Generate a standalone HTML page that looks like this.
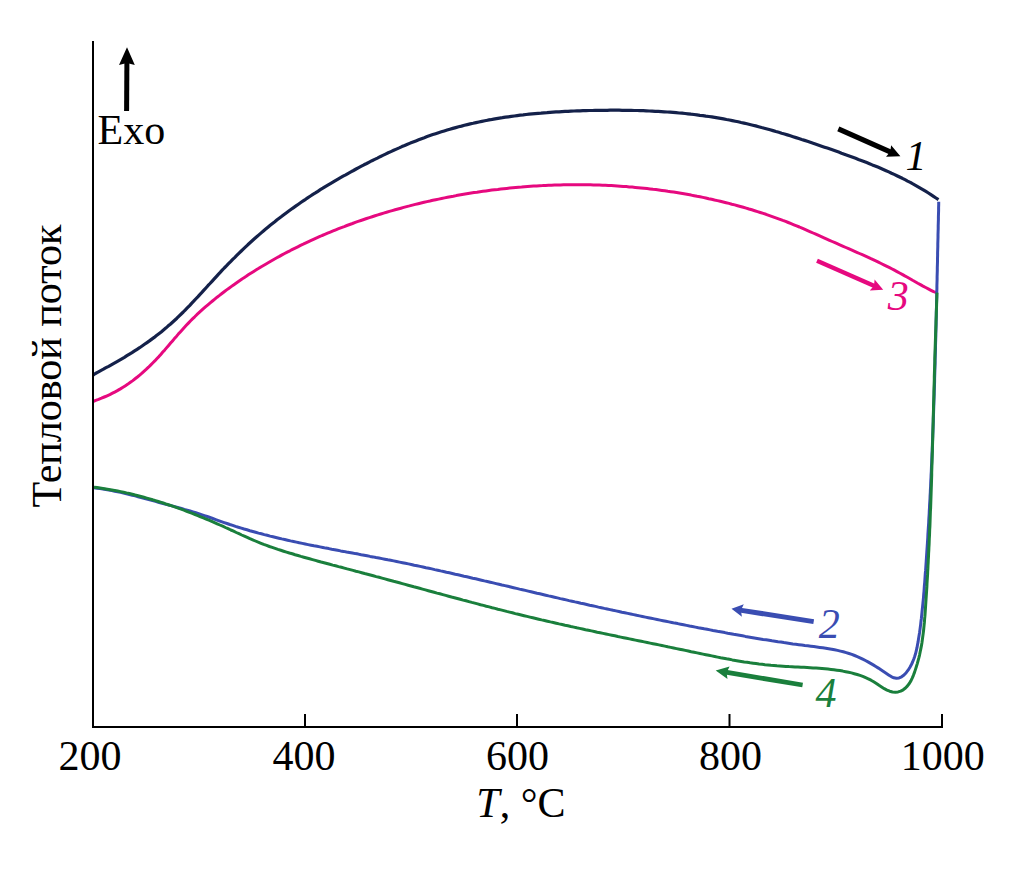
<!DOCTYPE html>
<html><head><meta charset="utf-8"><style>
html,body{margin:0;padding:0;background:#fff;width:1010px;height:871px;overflow:hidden}
svg{display:block}
text{font-family:"Liberation Serif",serif;font-size:42px}
</style></head><body>
<svg width="1010" height="871" viewBox="0 0 1010 871">
<path d="M93.0,375.2 L95.4,373.5 L98.0,372.1 L100.7,370.6 L103.4,369.2 L106.0,367.7 L108.7,366.3 L111.3,364.8 L113.9,363.3 L116.6,361.8 L119.2,360.3 L121.8,358.8 L124.4,357.3 L126.9,355.7 L129.5,354.1 L132.0,352.6 L134.6,350.9 L137.1,349.3 L139.6,347.7 L142.1,346.0 L144.5,344.3 L147.0,342.6 L149.4,340.9 L151.8,339.1 L154.2,337.4 L156.5,335.5 L158.9,333.7 L161.2,331.9 L163.5,330.0 L165.8,328.1 L168.0,326.1 L170.3,324.2 L172.5,322.2 L174.7,320.2 L176.9,318.2 L179.0,316.1 L181.2,314.0 L183.3,312.0 L185.4,309.8 L187.5,307.7 L189.6,305.6 L191.6,303.4 L193.7,301.2 L195.7,299.0 L197.8,296.8 L199.8,294.6 L201.9,292.4 L203.9,290.2 L205.9,288.0 L207.9,285.7 L210.0,283.5 L212.0,281.3 L214.0,279.1 L216.1,276.8 L218.1,274.6 L220.2,272.4 L222.2,270.2 L224.3,268.0 L226.4,265.9 L228.5,263.7 L230.6,261.6 L232.7,259.4 L234.9,257.3 L237.0,255.2 L239.1,253.1 L241.3,251.0 L243.5,248.9 L245.6,246.9 L247.8,244.8 L250.0,242.8 L252.2,240.8 L254.4,238.8 L256.7,236.8 L258.9,234.9 L261.2,232.9 L263.4,231.0 L265.7,229.1 L267.9,227.2 L270.2,225.3 L272.5,223.5 L274.8,221.7 L277.1,219.8 L279.5,218.0 L281.8,216.3 L284.1,214.5 L286.5,212.7 L288.8,211.0 L291.2,209.3 L293.6,207.6 L296.0,205.9 L298.4,204.2 L300.8,202.5 L303.2,200.9 L305.6,199.3 L308.0,197.6 L310.5,196.0 L312.9,194.4 L315.4,192.9 L317.9,191.3 L320.3,189.7 L322.8,188.2 L325.3,186.6 L327.8,185.1 L330.4,183.6 L332.9,182.1 L335.4,180.6 L338.0,179.1 L340.5,177.7 L343.1,176.2 L345.7,174.8 L348.3,173.3 L350.9,171.9 L353.5,170.5 L356.1,169.0 L358.7,167.6 L361.4,166.2 L364.0,164.8 L366.7,163.5 L369.3,162.1 L372.0,160.7 L374.7,159.4 L377.4,158.1 L380.1,156.7 L382.8,155.4 L385.5,154.1 L388.2,152.8 L390.9,151.6 L393.7,150.3 L396.4,149.1 L399.2,147.9 L401.9,146.6 L404.7,145.5 L407.5,144.3 L410.3,143.1 L413.1,142.0 L415.9,140.9 L418.7,139.8 L421.5,138.7 L424.3,137.7 L427.1,136.6 L430.0,135.6 L432.8,134.6 L435.6,133.7 L438.5,132.7 L441.4,131.8 L444.2,130.9 L447.1,130.0 L449.9,129.2 L452.8,128.4 L455.7,127.6 L458.6,126.8 L461.5,126.1 L464.4,125.3 L467.3,124.6 L470.2,123.9 L473.1,123.3 L476.0,122.6 L478.9,122.0 L481.9,121.4 L484.8,120.8 L487.7,120.2 L490.6,119.7 L493.6,119.1 L496.5,118.6 L499.5,118.1 L502.4,117.7 L505.4,117.2 L508.3,116.8 L511.3,116.4 L514.3,116.0 L517.2,115.6 L520.2,115.2 L523.2,114.9 L526.1,114.5 L529.1,114.2 L532.1,113.9 L535.1,113.6 L538.1,113.3 L541.0,113.1 L544.0,112.8 L547.0,112.6 L550.0,112.3 L553.0,112.1 L556.0,111.9 L559.0,111.8 L562.0,111.6 L565.0,111.4 L568.0,111.3 L571.0,111.1 L574.0,111.0 L577.0,110.9 L580.0,110.8 L583.0,110.7 L586.0,110.6 L589.1,110.5 L592.1,110.5 L595.1,110.4 L598.1,110.4 L601.1,110.3 L604.1,110.3 L607.1,110.3 L610.1,110.2 L613.1,110.2 L616.1,110.2 L619.1,110.2 L622.1,110.3 L625.2,110.3 L628.2,110.3 L631.2,110.4 L634.2,110.5 L637.2,110.5 L640.2,110.6 L643.2,110.7 L646.2,110.8 L649.2,111.0 L652.2,111.1 L655.2,111.3 L658.2,111.4 L661.2,111.6 L664.2,111.8 L667.2,112.0 L670.1,112.2 L673.1,112.4 L676.1,112.7 L679.1,113.0 L682.1,113.2 L685.1,113.5 L688.0,113.8 L691.0,114.2 L694.0,114.5 L696.9,114.9 L699.9,115.3 L702.9,115.6 L705.8,116.1 L708.8,116.5 L711.8,116.9 L714.7,117.4 L717.6,117.9 L720.6,118.4 L723.5,118.9 L726.5,119.5 L729.4,120.0 L732.3,120.6 L735.3,121.2 L738.2,121.8 L741.1,122.5 L744.0,123.1 L746.9,123.8 L749.8,124.5 L752.8,125.2 L755.7,125.9 L758.6,126.7 L761.5,127.5 L764.3,128.2 L767.2,129.0 L770.1,129.8 L773.0,130.6 L775.9,131.5 L778.8,132.3 L781.6,133.2 L784.5,134.0 L787.4,134.9 L790.3,135.8 L793.1,136.7 L796.0,137.6 L798.8,138.5 L801.7,139.5 L804.6,140.4 L807.4,141.3 L810.3,142.3 L813.1,143.2 L816.0,144.2 L818.8,145.2 L821.6,146.2 L824.5,147.2 L827.3,148.1 L830.2,149.1 L833.0,150.1 L835.8,151.1 L838.7,152.1 L841.5,153.2 L844.3,154.2 L847.1,155.2 L849.9,156.2 L852.8,157.3 L855.6,158.3 L858.4,159.4 L861.2,160.4 L864.0,161.5 L866.7,162.6 L869.5,163.7 L872.3,164.9 L875.1,166.0 L877.8,167.1 L880.6,168.3 L883.3,169.5 L886.1,170.7 L888.8,171.9 L891.5,173.2 L894.2,174.4 L896.9,175.7 L899.6,177.0 L902.3,178.3 L905.0,179.7 L907.6,181.1 L910.3,182.4 L912.9,183.9 L915.5,185.3 L918.1,186.8 L920.7,188.3 L923.3,189.8 L925.9,191.4 L928.4,193.0 L930.9,194.6 L933.5,196.3 L936.0,198.0 L938.5,199.6" fill="none" stroke="#14214a" stroke-width="3.2" stroke-linejoin="round"/>
<path d="M93.0,401.6 L95.7,400.3 L98.6,399.3 L101.5,398.2 L104.3,397.0 L107.1,395.8 L109.8,394.6 L112.5,393.2 L115.2,391.8 L117.8,390.4 L120.4,388.9 L123.0,387.3 L125.5,385.7 L127.9,384.1 L130.4,382.3 L132.8,380.6 L135.1,378.8 L137.4,377.0 L139.7,375.1 L142.0,373.2 L144.2,371.2 L146.4,369.2 L148.5,367.2 L150.6,365.1 L152.7,363.0 L154.8,360.9 L156.8,358.7 L158.9,356.6 L160.8,354.4 L162.8,352.1 L164.8,349.9 L166.7,347.6 L168.6,345.4 L170.6,343.1 L172.5,340.9 L174.4,338.6 L176.4,336.4 L178.3,334.1 L180.3,331.9 L182.3,329.7 L184.3,327.5 L186.3,325.3 L188.4,323.1 L190.4,321.0 L192.5,318.9 L194.7,316.8 L196.8,314.7 L199.0,312.7 L201.2,310.7 L203.4,308.7 L205.7,306.7 L207.9,304.8 L210.2,302.9 L212.5,301.0 L214.8,299.1 L217.1,297.2 L219.5,295.4 L221.9,293.5 L224.2,291.7 L226.6,289.9 L229.0,288.2 L231.5,286.4 L233.9,284.7 L236.3,283.0 L238.8,281.3 L241.3,279.6 L243.7,277.9 L246.2,276.3 L248.7,274.6 L251.2,273.0 L253.7,271.4 L256.3,269.8 L258.8,268.3 L261.3,266.7 L263.9,265.2 L266.5,263.7 L269.0,262.2 L271.6,260.7 L274.2,259.2 L276.8,257.8 L279.4,256.4 L282.0,254.9 L284.6,253.5 L287.2,252.1 L289.9,250.8 L292.5,249.4 L295.2,248.1 L297.8,246.8 L300.5,245.4 L303.2,244.2 L305.9,242.9 L308.6,241.6 L311.2,240.4 L314.0,239.1 L316.7,237.9 L319.4,236.7 L322.1,235.5 L324.8,234.4 L327.6,233.2 L330.3,232.1 L333.1,230.9 L335.8,229.8 L338.6,228.7 L341.4,227.6 L344.2,226.6 L346.9,225.5 L349.7,224.5 L352.5,223.5 L355.3,222.4 L358.1,221.4 L360.9,220.5 L363.8,219.5 L366.6,218.5 L369.4,217.6 L372.2,216.7 L375.1,215.8 L377.9,214.9 L380.8,214.0 L383.6,213.1 L386.5,212.3 L389.4,211.4 L392.2,210.6 L395.1,209.8 L398.0,209.0 L400.9,208.2 L403.7,207.4 L406.6,206.6 L409.5,205.9 L412.4,205.1 L415.3,204.4 L418.2,203.7 L421.1,203.0 L424.1,202.3 L427.0,201.6 L429.9,201.0 L432.8,200.3 L435.7,199.7 L438.7,199.1 L441.6,198.5 L444.5,197.9 L447.5,197.3 L450.4,196.7 L453.3,196.2 L456.3,195.6 L459.2,195.1 L462.2,194.6 L465.1,194.1 L468.1,193.6 L471.1,193.1 L474.0,192.6 L477.0,192.2 L479.9,191.7 L482.9,191.3 L485.9,190.9 L488.9,190.5 L491.8,190.1 L494.8,189.7 L497.8,189.4 L500.8,189.0 L503.7,188.7 L506.7,188.4 L509.7,188.1 L512.7,187.8 L515.7,187.5 L518.6,187.2 L521.6,187.0 L524.6,186.7 L527.6,186.5 L530.6,186.3 L533.6,186.1 L536.6,185.9 L539.6,185.7 L542.6,185.6 L545.6,185.4 L548.5,185.3 L551.5,185.2 L554.5,185.1 L557.5,185.0 L560.5,184.9 L563.5,184.8 L566.5,184.8 L569.5,184.7 L572.5,184.7 L575.5,184.7 L578.5,184.7 L581.5,184.7 L584.5,184.7 L587.5,184.8 L590.5,184.8 L593.4,184.9 L596.4,185.0 L599.4,185.1 L602.4,185.2 L605.4,185.3 L608.4,185.5 L611.4,185.6 L614.3,185.8 L617.3,186.0 L620.3,186.2 L623.3,186.4 L626.3,186.6 L629.2,186.9 L632.2,187.1 L635.2,187.4 L638.2,187.7 L641.1,188.0 L644.1,188.3 L647.1,188.6 L650.0,188.9 L653.0,189.3 L655.9,189.6 L658.9,190.0 L661.9,190.4 L664.8,190.8 L667.8,191.3 L670.7,191.7 L673.6,192.1 L676.6,192.6 L679.5,193.1 L682.5,193.6 L685.4,194.1 L688.3,194.6 L691.2,195.1 L694.2,195.7 L697.1,196.3 L700.0,196.8 L702.9,197.4 L705.8,198.0 L708.7,198.7 L711.6,199.3 L714.5,200.0 L717.4,200.6 L720.3,201.3 L723.2,202.0 L726.1,202.7 L729.0,203.4 L731.8,204.2 L734.7,204.9 L737.6,205.7 L740.4,206.5 L743.3,207.3 L746.2,208.1 L749.0,209.0 L751.8,209.8 L754.7,210.7 L757.5,211.6 L760.3,212.5 L763.2,213.4 L766.0,214.3 L768.8,215.3 L771.6,216.3 L774.4,217.3 L777.2,218.3 L780.0,219.3 L782.8,220.4 L785.6,221.4 L788.3,222.5 L791.1,223.6 L793.9,224.8 L796.6,225.9 L799.4,227.0 L802.1,228.2 L804.9,229.4 L807.6,230.6 L810.4,231.8 L813.1,233.0 L815.8,234.2 L818.6,235.4 L821.3,236.6 L824.0,237.8 L826.8,239.1 L829.5,240.3 L832.2,241.5 L835.0,242.7 L837.7,243.9 L840.4,245.1 L843.2,246.3 L845.9,247.5 L848.6,248.7 L851.4,249.9 L854.1,251.1 L856.8,252.3 L859.5,253.5 L862.3,254.7 L865.0,255.9 L867.7,257.1 L870.4,258.4 L873.1,259.6 L875.8,260.9 L878.4,262.2 L881.1,263.5 L883.8,264.8 L886.4,266.1 L889.1,267.4 L891.7,268.8 L894.4,270.2 L897.0,271.6 L899.6,273.0 L902.2,274.4 L904.8,275.9 L907.4,277.3 L910.0,278.8 L912.6,280.3 L915.2,281.7 L917.8,283.2 L920.4,284.6 L923.0,286.1 L925.7,287.5 L928.3,288.9 L931.0,290.3 L933.6,291.6 L936.5,292.6" fill="none" stroke="#e6097f" stroke-width="3" stroke-linejoin="round"/>
<path d="M94.0,487.8 L97.0,488.2 L100.0,488.6 L102.9,489.0 L105.9,489.5 L108.8,490.0 L111.8,490.6 L114.7,491.2 L117.7,491.8 L120.6,492.4 L123.5,493.1 L126.4,493.8 L129.4,494.5 L132.3,495.2 L135.2,495.9 L138.1,496.7 L141.0,497.5 L143.9,498.2 L146.8,499.0 L149.7,499.8 L152.6,500.6 L155.5,501.4 L158.4,502.2 L161.2,503.0 L164.1,503.8 L167.0,504.6 L169.9,505.4 L172.8,506.1 L175.7,506.9 L178.6,507.7 L181.5,508.5 L184.3,509.4 L187.2,510.2 L190.1,511.0 L192.9,511.9 L195.8,512.8 L198.7,513.7 L201.5,514.6 L204.4,515.6 L207.2,516.5 L210.0,517.5 L212.8,518.5 L215.7,519.6 L218.5,520.6 L221.3,521.6 L224.2,522.6 L227.0,523.5 L229.8,524.5 L232.7,525.4 L235.5,526.4 L238.4,527.3 L241.3,528.1 L244.1,529.0 L247.0,529.8 L249.9,530.7 L252.8,531.5 L255.6,532.3 L258.5,533.1 L261.4,533.8 L264.3,534.6 L267.2,535.3 L270.1,536.1 L273.0,536.8 L275.9,537.5 L278.9,538.2 L281.8,538.9 L284.7,539.5 L287.6,540.2 L290.5,540.9 L293.5,541.5 L296.4,542.1 L299.3,542.8 L302.3,543.4 L305.2,544.0 L308.1,544.6 L311.1,545.2 L314.0,545.8 L317.0,546.3 L319.9,546.9 L322.9,547.5 L325.8,548.1 L328.8,548.6 L331.7,549.2 L334.7,549.7 L337.6,550.3 L340.6,550.9 L343.5,551.4 L346.5,552.0 L349.4,552.5 L352.4,553.0 L355.3,553.6 L358.3,554.1 L361.2,554.7 L364.2,555.2 L367.1,555.8 L370.1,556.4 L373.0,556.9 L376.0,557.5 L378.9,558.0 L381.9,558.6 L384.8,559.2 L387.8,559.8 L390.7,560.3 L393.7,560.9 L396.6,561.5 L399.5,562.1 L402.5,562.7 L405.4,563.3 L408.4,563.9 L411.3,564.5 L414.2,565.2 L417.2,565.8 L420.1,566.4 L423.0,567.0 L426.0,567.7 L428.9,568.3 L431.8,568.9 L434.7,569.6 L437.7,570.2 L440.6,570.9 L443.5,571.5 L446.4,572.2 L449.4,572.8 L452.3,573.5 L455.2,574.2 L458.1,574.8 L461.1,575.5 L464.0,576.2 L466.9,576.8 L469.8,577.5 L472.7,578.2 L475.7,578.8 L478.6,579.5 L481.5,580.2 L484.4,580.9 L487.3,581.5 L490.3,582.2 L493.2,582.9 L496.1,583.6 L499.0,584.3 L501.9,585.0 L504.9,585.6 L507.8,586.3 L510.7,587.0 L513.6,587.7 L516.5,588.4 L519.5,589.1 L522.4,589.7 L525.3,590.4 L528.2,591.1 L531.1,591.8 L534.0,592.5 L537.0,593.2 L539.9,593.8 L542.8,594.5 L545.7,595.2 L548.6,595.9 L551.6,596.5 L554.5,597.2 L557.4,597.9 L560.3,598.6 L563.3,599.2 L566.2,599.9 L569.1,600.6 L572.0,601.2 L575.0,601.9 L577.9,602.5 L580.8,603.2 L583.8,603.8 L586.7,604.5 L589.6,605.2 L592.5,605.8 L595.5,606.4 L598.4,607.1 L601.3,607.7 L604.3,608.4 L607.2,609.0 L610.1,609.6 L613.1,610.3 L616.0,610.9 L618.9,611.5 L621.9,612.2 L624.8,612.8 L627.7,613.4 L630.7,614.0 L633.6,614.6 L636.6,615.3 L639.5,615.9 L642.4,616.5 L645.4,617.1 L648.3,617.7 L651.2,618.3 L654.2,618.9 L657.1,619.5 L660.1,620.1 L663.0,620.7 L665.9,621.3 L668.9,621.9 L671.8,622.5 L674.8,623.1 L677.7,623.6 L680.7,624.2 L683.6,624.8 L686.5,625.4 L689.5,626.0 L692.4,626.5 L695.4,627.1 L698.3,627.7 L701.3,628.2 L704.2,628.8 L707.1,629.3 L710.1,629.9 L713.0,630.5 L716.0,631.0 L718.9,631.6 L721.9,632.1 L724.8,632.6 L727.7,633.2 L730.7,633.7 L733.6,634.3 L736.6,634.8 L739.5,635.3 L742.5,635.8 L745.4,636.4 L748.4,636.9 L751.3,637.4 L754.3,637.9 L757.2,638.4 L760.2,638.9 L763.1,639.4 L766.1,639.8 L769.1,640.3 L772.0,640.8 L775.0,641.2 L778.0,641.7 L780.9,642.1 L783.9,642.6 L786.9,643.0 L789.9,643.4 L792.8,643.9 L795.8,644.3 L798.8,644.7 L801.8,645.1 L804.8,645.5 L807.8,645.8 L810.8,646.2 L813.8,646.6 L816.8,647.0 L819.8,647.4 L822.8,647.8 L825.8,648.2 L828.7,648.7 L831.7,649.2 L834.6,649.8 L837.5,650.4 L840.4,651.1 L843.3,651.8 L846.2,652.6 L849.0,653.5 L851.8,654.4 L854.6,655.5 L857.3,656.6 L860.0,657.8 L862.7,659.1 L865.4,660.5 L868.0,661.9 L870.6,663.4 L873.2,664.9 L875.8,666.5 L878.4,668.1 L880.9,669.8 L883.5,671.5 L886.1,673.2 L888.6,674.9 L891.2,676.6 L893.8,677.8 L896.4,678.3 L899.1,677.9 L901.6,676.8 L904.0,675.0 L906.2,672.7 L908.1,670.2 L909.8,667.5 L911.3,664.8 L912.6,662.0 L913.7,659.2 L914.7,656.4 L915.6,653.5 L916.3,650.7 L917.0,647.7 L917.5,644.8 L918.1,641.9 L918.5,638.9 L919.0,636.0 L919.5,633.0 L919.9,630.1 L920.3,627.1 L920.7,624.1 L921.0,621.2 L921.4,618.2 L921.7,615.2 L922.0,612.2 L922.3,609.2 L922.6,606.3 L922.9,603.3 L923.2,600.3 L923.5,597.3 L923.7,594.3 L924.0,591.3 L924.2,588.3 L924.4,585.3 L924.7,582.3 L924.9,579.3 L925.1,576.4 L925.3,573.4 L925.6,570.4 L925.8,567.4 L926.0,564.4 L926.2,561.4 L926.4,558.4 L926.6,555.4 L926.8,552.4 L927.0,549.4 L927.2,546.4 L927.4,543.4 L927.6,540.4 L927.8,537.4 L927.9,534.4 L928.1,531.4 L928.3,528.4 L928.5,525.4 L928.7,522.5 L928.8,519.5 L929.0,516.5 L929.2,513.5 L929.3,510.5 L929.5,507.5 L929.6,504.5 L929.8,501.5 L930.0,498.5 L930.1,495.5 L930.3,492.5 L930.4,489.5 L930.6,486.5 L930.7,483.5 L930.8,480.5 L931.0,477.5 L931.1,474.5 L931.3,471.5 L931.4,468.5 L931.5,465.5 L931.7,462.5 L931.8,459.5 L931.9,456.5 L932.0,453.5 L932.2,450.6 L932.3,447.6 L932.4,444.6 L932.5,441.6 L932.6,438.6 L932.7,435.6 L932.9,432.6 L933.0,429.6 L933.1,426.6 L933.2,423.6 L933.3,420.6 L933.4,417.6 L933.5,414.6 L933.6,411.6 L933.7,408.6 L933.8,405.6 L933.9,402.6 L934.0,399.6 L934.1,396.6 L934.2,393.6 L934.3,390.6 L934.4,387.6 L934.5,384.6 L934.6,381.6 L934.6,378.6 L934.7,375.6 L934.8,372.6 L934.9,369.6 L935.0,366.6 L935.1,363.6 L935.1,360.6 L935.2,357.6 L935.3,354.6 L935.4,351.6 L935.5,348.6 L935.5,345.6 L935.6,342.6 L935.7,339.6 L935.8,336.6 L935.8,333.6 L935.9,330.7 L936.0,327.7 L936.1,324.7 L936.1,321.7 L936.2,318.7 L936.3,315.7 L936.3,312.7 L936.4,309.7 L936.5,306.7 L936.5,303.7 L936.6,300.7 L936.7,297.7 L936.7,294.7 L936.8,291.7 L936.9,288.7 L936.9,285.7 L937.0,282.7 L937.1,279.7 L937.1,276.7 L937.2,273.7 L937.3,270.7 L937.3,267.7 L937.4,264.7 L937.5,261.7 L937.5,258.7 L937.6,255.7 L937.6,252.7 L937.7,249.7 L937.8,246.7 L937.8,243.7 L937.9,240.7 L938.0,237.7 L938.0,234.7 L938.1,231.7 L938.2,228.7 L938.2,225.7 L938.3,222.7 L938.4,219.7 L938.4,216.7 L938.5,213.7 L938.6,210.7 L938.6,207.7 L938.7,204.7 L938.7,201.7" fill="none" stroke="#3a4db2" stroke-width="3" stroke-linejoin="round"/>
<path d="M94.0,487.2 L97.0,487.6 L100.0,488.0 L102.9,488.4 L105.9,488.9 L108.8,489.4 L111.8,489.9 L114.7,490.4 L117.7,491.0 L120.6,491.6 L123.6,492.2 L126.5,492.9 L129.4,493.5 L132.3,494.2 L135.2,495.0 L138.1,495.7 L141.0,496.5 L143.9,497.3 L146.8,498.1 L149.7,498.9 L152.6,499.8 L155.5,500.6 L158.3,501.5 L161.2,502.4 L164.1,503.3 L166.9,504.3 L169.8,505.2 L172.6,506.2 L175.4,507.2 L178.2,508.2 L181.1,509.2 L183.9,510.2 L186.7,511.3 L189.5,512.4 L192.3,513.4 L195.1,514.5 L197.9,515.6 L200.6,516.8 L203.4,517.9 L206.2,519.1 L208.9,520.2 L211.7,521.4 L214.5,522.6 L217.2,523.8 L219.9,525.0 L222.7,526.2 L225.4,527.5 L228.1,528.7 L230.8,530.0 L233.6,531.2 L236.3,532.5 L239.0,533.7 L241.7,535.0 L244.4,536.2 L247.2,537.4 L249.9,538.7 L252.7,539.8 L255.4,541.0 L258.2,542.2 L261.0,543.3 L263.7,544.4 L266.6,545.4 L269.4,546.5 L272.2,547.4 L275.1,548.4 L277.9,549.4 L280.8,550.3 L283.6,551.2 L286.5,552.1 L289.4,553.0 L292.3,553.8 L295.1,554.7 L298.0,555.5 L300.9,556.4 L303.8,557.2 L306.7,558.0 L309.6,558.8 L312.5,559.6 L315.4,560.4 L318.2,561.2 L321.1,562.0 L324.0,562.7 L326.9,563.5 L329.8,564.3 L332.7,565.1 L335.6,565.8 L338.5,566.6 L341.4,567.3 L344.3,568.1 L347.2,568.9 L350.1,569.6 L353.0,570.4 L355.9,571.2 L358.8,571.9 L361.7,572.7 L364.6,573.5 L367.5,574.2 L370.4,575.0 L373.3,575.8 L376.2,576.6 L379.1,577.3 L382.0,578.1 L384.9,578.9 L387.8,579.7 L390.7,580.5 L393.6,581.3 L396.5,582.0 L399.4,582.8 L402.3,583.6 L405.2,584.4 L408.1,585.2 L411.0,586.0 L413.8,586.8 L416.7,587.5 L419.6,588.3 L422.5,589.1 L425.4,589.9 L428.3,590.7 L431.2,591.5 L434.1,592.3 L437.0,593.1 L439.9,593.8 L442.8,594.6 L445.7,595.4 L448.6,596.2 L451.5,597.0 L454.4,597.7 L457.3,598.5 L460.2,599.3 L463.1,600.1 L466.0,600.8 L468.9,601.6 L471.8,602.4 L474.7,603.1 L477.6,603.9 L480.5,604.7 L483.4,605.4 L486.3,606.2 L489.2,606.9 L492.1,607.7 L495.0,608.4 L497.9,609.2 L500.8,609.9 L503.7,610.6 L506.6,611.4 L509.5,612.1 L512.4,612.8 L515.3,613.6 L518.3,614.3 L521.2,615.0 L524.1,615.7 L527.0,616.4 L529.9,617.1 L532.8,617.8 L535.8,618.5 L538.7,619.2 L541.6,619.9 L544.5,620.5 L547.4,621.2 L550.4,621.9 L553.3,622.5 L556.2,623.2 L559.1,623.9 L562.1,624.5 L565.0,625.2 L567.9,625.8 L570.8,626.5 L573.8,627.1 L576.7,627.8 L579.6,628.4 L582.6,629.0 L585.5,629.7 L588.4,630.3 L591.4,630.9 L594.3,631.5 L597.2,632.2 L600.2,632.8 L603.1,633.4 L606.0,634.0 L609.0,634.6 L611.9,635.2 L614.9,635.8 L617.8,636.5 L620.7,637.1 L623.7,637.7 L626.6,638.3 L629.5,638.9 L632.5,639.5 L635.4,640.1 L638.4,640.7 L641.3,641.3 L644.2,641.9 L647.2,642.5 L650.1,643.1 L653.0,643.7 L656.0,644.3 L658.9,644.9 L661.9,645.5 L664.8,646.1 L667.7,646.8 L670.7,647.4 L673.6,648.0 L676.5,648.6 L679.5,649.2 L682.4,649.8 L685.3,650.4 L688.3,651.0 L691.2,651.7 L694.1,652.3 L697.1,652.9 L700.0,653.5 L702.9,654.1 L705.9,654.7 L708.8,655.3 L711.8,655.9 L714.7,656.5 L717.6,657.1 L720.6,657.7 L723.5,658.2 L726.5,658.8 L729.4,659.3 L732.3,659.9 L735.3,660.4 L738.2,660.9 L741.2,661.4 L744.2,661.9 L747.1,662.3 L750.1,662.8 L753.1,663.2 L756.0,663.6 L759.0,664.0 L762.0,664.3 L765.0,664.7 L768.0,665.0 L770.9,665.3 L773.9,665.5 L776.9,665.8 L779.9,666.0 L783.0,666.2 L786.0,666.4 L789.0,666.6 L792.0,666.7 L795.0,666.9 L798.0,667.0 L801.0,667.2 L804.0,667.3 L807.1,667.5 L810.1,667.7 L813.1,667.9 L816.1,668.1 L819.1,668.3 L822.0,668.5 L825.0,668.8 L828.0,669.1 L831.0,669.4 L833.9,669.8 L836.9,670.2 L839.8,670.6 L842.7,671.1 L845.7,671.7 L848.6,672.3 L851.5,672.9 L854.3,673.7 L857.2,674.5 L860.0,675.4 L862.8,676.4 L865.6,677.6 L868.3,678.8 L871.0,680.2 L873.7,681.8 L876.4,683.5 L879.0,685.3 L881.6,687.0 L884.3,688.7 L887.0,690.1 L889.7,691.2 L892.5,692.0 L895.4,692.2 L898.1,691.9 L900.7,691.1 L903.2,689.8 L905.5,688.0 L907.5,685.9 L909.3,683.5 L910.9,680.9 L912.2,678.1 L913.4,675.3 L914.5,672.4 L915.5,669.4 L916.4,666.5 L917.3,663.6 L918.1,660.7 L918.9,657.7 L919.6,654.8 L920.2,651.8 L920.8,648.9 L921.4,645.9 L921.9,643.0 L922.3,640.0 L922.7,637.1 L923.1,634.1 L923.5,631.1 L923.8,628.1 L924.1,625.2 L924.4,622.2 L924.6,619.2 L924.9,616.2 L925.1,613.3 L925.3,610.3 L925.5,607.3 L925.7,604.3 L925.9,601.3 L926.1,598.3 L926.3,595.3 L926.5,592.4 L926.7,589.4 L926.9,586.4 L927.0,583.4 L927.2,580.4 L927.4,577.4 L927.6,574.4 L927.7,571.4 L927.9,568.4 L928.0,565.4 L928.2,562.5 L928.3,559.5 L928.5,556.5 L928.6,553.5 L928.8,550.5 L928.9,547.5 L929.1,544.5 L929.2,541.5 L929.3,538.5 L929.5,535.5 L929.6,532.5 L929.7,529.5 L929.9,526.5 L930.0,523.5 L930.1,520.5 L930.2,517.5 L930.3,514.5 L930.4,511.5 L930.6,508.5 L930.7,505.5 L930.8,502.5 L930.9,499.5 L931.0,496.5 L931.1,493.5 L931.2,490.5 L931.3,487.5 L931.4,484.5 L931.5,481.5 L931.6,478.5 L931.7,475.5 L931.7,472.5 L931.8,469.5 L931.9,466.5 L932.0,463.5 L932.1,460.5 L932.2,457.5 L932.3,454.5 L932.4,451.5 L932.4,448.5 L932.5,445.5 L932.6,442.5 L932.7,439.5 L932.8,436.5 L932.8,433.5 L932.9,430.5 L933.0,427.5 L933.1,424.5 L933.2,421.5 L933.2,418.5 L933.3,415.5 L933.4,412.5 L933.5,409.5 L933.5,406.5 L933.6,403.5 L933.7,400.5 L933.8,397.5 L933.9,394.5 L933.9,391.5 L934.0,388.5 L934.1,385.5 L934.2,382.5 L934.3,379.5 L934.3,376.5 L934.4,373.5 L934.5,370.5 L934.6,367.5 L934.7,364.5 L934.8,361.5 L934.8,358.5 L934.9,355.5 L935.0,352.5 L935.1,349.5 L935.2,346.5 L935.3,343.5 L935.4,340.5 L935.5,337.5 L935.6,334.5 L935.7,331.5 L935.8,328.5 L935.9,325.5 L936.0,322.5 L936.1,319.5 L936.2,316.6 L936.3,313.6 L936.4,310.6 L936.5,307.6 L936.6,304.6 L936.7,301.6 L936.8,298.6 L936.9,295.6 L937.0,292.6" fill="none" stroke="#1a7f3c" stroke-width="3" stroke-linejoin="round"/>
<path d="M93,41 V727 H942 V714" fill="none" stroke="#000" stroke-width="2"/>
<line x1="305" y1="714" x2="305" y2="727" stroke="#000" stroke-width="2"/>
<line x1="517" y1="714" x2="517" y2="727" stroke="#000" stroke-width="2"/>
<line x1="729.5" y1="714" x2="729.5" y2="727" stroke="#000" stroke-width="2"/>
<line x1="126.6" y1="111.0" x2="126.9" y2="62.0" stroke="#000" stroke-width="5.0"/><polygon points="127.0,47.2 134.8,65.0 126.9,63.0 119.0,65.0" fill="#000"/>
<line x1="838.3" y1="128.8" x2="891.3" y2="152.3" stroke="#000" stroke-width="5.2"/><polygon points="900.4,156.3 886.0,156.8 890.3,151.8 891.1,145.3" fill="#000"/>
<line x1="817.0" y1="260.7" x2="875.0" y2="286.2" stroke="#e6097f" stroke-width="4.3"/><polygon points="883.2,289.8 869.8,290.5 874.0,285.8 874.6,279.5" fill="#e6097f"/>
<line x1="813.7" y1="621.6" x2="739.9" y2="610.1" stroke="#3a4db2" stroke-width="5.0"/><polygon points="731.5,608.8 743.8,604.3 740.9,610.3 741.9,616.8" fill="#3a4db2"/>
<line x1="802.6" y1="685.0" x2="725.6" y2="672.2" stroke="#1a7f3c" stroke-width="4.8"/><polygon points="715.7,670.6 729.6,666.4 726.6,672.4 727.5,679.0" fill="#1a7f3c"/>
<text x="97.6" y="144.3" text-anchor="start" fill="#000">Exo</text>
<text x="58.4" y="770" text-anchor="start" fill="#000">200</text>
<text x="272.6" y="770" text-anchor="start" fill="#000">400</text>
<text x="486" y="770" text-anchor="start" fill="#000">600</text>
<text x="699" y="770" text-anchor="start" fill="#000">800</text>
<text x="900.7" y="770" text-anchor="start" fill="#000">1000</text>
<text x="905.4" y="169.8" text-anchor="start" fill="#000" font-style="italic">1</text>
<text x="887.7" y="310.3" text-anchor="start" fill="#e6097f" font-style="italic">3</text>
<text x="818.8" y="637.5" text-anchor="start" fill="#3a4db2" font-style="italic">2</text>
<text x="815.6" y="707.2" text-anchor="start" fill="#1a7f3c" font-style="italic">4</text>
<text x="476.3" y="817" fill="#000"><tspan font-style="italic">T</tspan>, °C</text>
<text x="0" y="0" fill="#000" transform="translate(60.7,507.4) rotate(-90)">Тепловой поток</text>
</svg>
</body></html>
